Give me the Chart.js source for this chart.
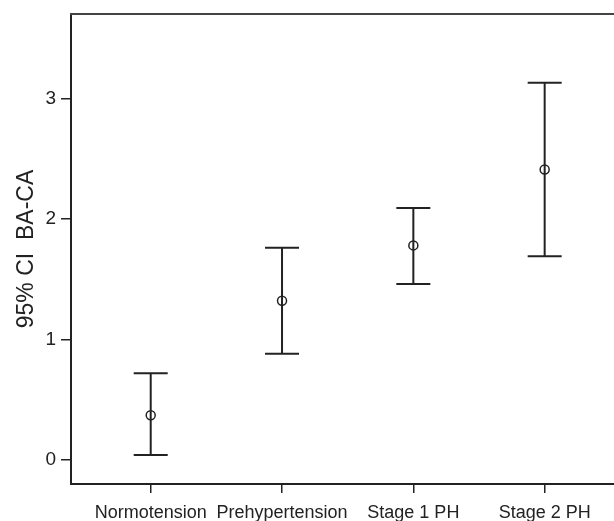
<!DOCTYPE html>
<html>
<head>
<meta charset="utf-8">
<script src="https://cdn.jsdelivr.net/npm/chart.js@4/dist/chart.umd.min.js"></script>
<style>
  body { margin: 0; background: #fff; }
  #wrap { width: 614px; height: 521px; position: relative; }
</style>
</head>
<body>
<div id="wrap"><canvas id="ciChart"></canvas></div>
<script>
// 95% CI of BA-CA by blood pressure group
const categories = ['Normotension', 'Prehypertension', 'Stage 1 PH', 'Stage 2 PH'];
const means = [0.37, 1.32, 1.78, 2.41];
const lower = [0.04, 0.88, 1.46, 1.69];
const upper = [0.72, 1.76, 2.09, 3.13];
const yTicks = [0, 1, 2, 3];

const ink = '#222';

// whiskers: lower -> upper per group, broken by a null point
const whiskerPoints = [];
categories.forEach((c, i) => {
    whiskerPoints.push({ x: i, y: lower[i] });
    whiskerPoints.push({ x: i, y: upper[i] });
    whiskerPoints.push({ x: i, y: null });
});
const meanPoints = means.map((m, i) => ({ x: i, y: m }));

// top frame line (runs to the right edge, no right border)
const topLine = {
    id: 'topLine',
    afterDraw(chart) {
        const ctx = chart.ctx;
        const a = chart.chartArea;
        ctx.save();
        ctx.strokeStyle = '#444';
        ctx.lineWidth = 2;
        ctx.beginPath();
        ctx.moveTo(a.left - 1, a.top);
        ctx.lineTo(chart.width, a.top);
        ctx.stroke();
        ctx.restore();
    }
};

new Chart(document.getElementById('ciChart'), {
    type: 'scatter',
    data: {
        datasets: [
            {
                label: 'Mean',
                data: meanPoints,
                pointStyle: 'circle',
                pointRadius: 4.5,
                pointBorderWidth: 1.5,
                pointBackgroundColor: 'rgba(0,0,0,0)',
                pointBorderColor: ink,
                order: 0
            },
            {
                label: '95% CI',
                data: whiskerPoints,
                showLine: true,
                spanGaps: false,
                borderColor: ink,
                borderWidth: 2,
                pointStyle: 'line',
                pointRadius: 17,
                pointBorderWidth: 2,
                pointBorderColor: ink,
                order: 1
            }
        ]
    },
    plugins: [topLine],
    options: {
        responsive: true,
        maintainAspectRatio: false,
        animation: false,
        layout: { autoPadding: false, padding: { top: 14, right: 0, left: 0, bottom: 0 } },
        plugins: {
            legend: { display: false },
            tooltip: { enabled: false }
        },
        scales: {
            x: {
                type: 'linear',
                min: -0.607,
                max: 3.528,
                afterBuildTicks: s => { s.ticks = categories.map((c, i) => ({ value: i })); },
                afterFit: s => {
                    s.height = 37;
                    s.paddingLeft = 0;
                    s.paddingRight = 0;
                },
                grid: { drawOnChartArea: false, tickLength: 9, color: ink, lineWidth: 1.5 },
                border: { display: true, color: ink, width: 2 },
                ticks: {
                    autoSkip: false,
                    maxRotation: 0,
                    padding: 9,
                    color: '#222',
                    font: { family: 'Liberation Sans', size: 18 },
                    callback: v => categories[Math.round(v)]
                }
            },
            y: {
                min: -0.2,
                max: 3.7,
                afterBuildTicks: s => { s.ticks = yTicks.map(v => ({ value: v })); },
                afterFit: s => {
                    s.width = 71;
                    s.paddingTop = 0;
                    s.paddingBottom = 0;
                },
                grid: { drawOnChartArea: false, tickLength: 10, color: ink, lineWidth: 1.5 },
                border: { display: true, color: ink, width: 2 },
                ticks: { padding: 5, color: '#222', font: { family: 'Liberation Sans', size: 19 } },
                title: {
                    display: true,
                    text: '95% CI  BA-CA',
                    color: '#222',
                    font: { family: 'Liberation Sans', size: 23 },
                    padding: { top: 13, bottom: 0 }
                }
            }
        }
    }
});
</script>
</body>
</html>
